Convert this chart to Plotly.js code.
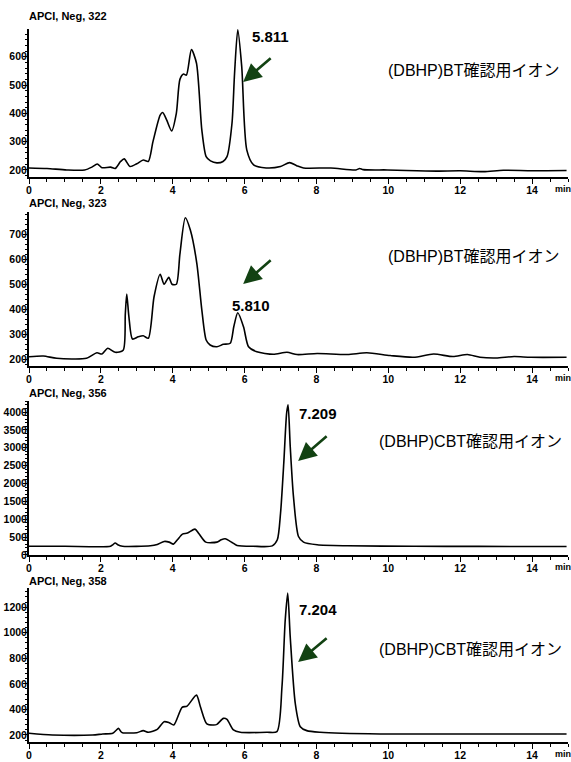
<!DOCTYPE html>
<html>
<head>
<meta charset="utf-8">
<script src="https://cdn.plot.ly/plotly-3.0.1.min.js"></script>
<style>html,body{margin:0;padding:0;background:#fff;}#chart{width:571px;height:762px;}</style>
</head>
<body>
<div id="chart"></div>
<script>
// ---- data ----
const panelTitles = ["APCI, Neg, 322", "APCI, Neg, 323", "APCI, Neg, 356", "APCI, Neg, 358"];
const peakLabels = ["5.811", "5.810", "7.209", "7.204"];
const ionLabels = ["(DBHP)BT確認用イオン", "(DBHP)BT確認用イオン", "(DBHP)CBT確認用イオン", "(DBHP)CBT確認用イオン"];
const xTickVals = [0, 2, 4, 6, 8, 10, 12, 14];

const t1 = [0, 0.5, 1.05, 1.55, 1.75, 1.9, 2.03, 2.27, 2.4, 2.55, 2.65, 2.81, 3.0, 3.18, 3.32, 3.45, 3.65, 3.72, 3.83, 3.97, 4.1, 4.2, 4.3, 4.38, 4.52, 4.66, 4.81, 4.93, 5.05, 5.23, 5.4, 5.51, 5.65, 5.72, 5.81, 5.92, 6.06, 6.25, 6.6, 7.0, 7.25, 7.45, 7.64, 8.4, 9.1, 9.2, 9.3, 9.97, 10.5, 11.35, 12.0, 12.65, 13.2, 14.0, 14.96];
const v1 = [207, 205, 200, 200, 210, 221, 208, 210, 205, 230, 239, 212, 222, 235, 230, 300, 394, 403, 377, 338, 400, 520, 539, 535, 625, 578, 341, 247, 232, 225, 230, 247, 366, 540, 695, 565, 271, 218, 207, 212, 226, 215, 207, 207, 200, 205, 201, 200, 198, 196, 197, 194, 199, 197, 198];

const t2 = [0, 0.4, 0.77, 1.6, 1.89, 2.03, 2.19, 2.4, 2.62, 2.68, 2.72, 2.78, 2.88, 3.04, 3.18, 3.32, 3.48, 3.65, 3.76, 3.89, 3.98, 4.1, 4.2, 4.35, 4.49, 4.67, 4.81, 4.93, 5.04, 5.23, 5.41, 5.6, 5.7, 5.81, 5.97, 6.11, 6.34, 6.8, 7.18, 7.46, 8.02, 8.86, 9.4, 10.05, 10.7, 11.26, 11.8, 12.2, 12.55, 13.0, 13.5, 13.96, 14.96];
const v2 = [209, 212, 203, 203, 225, 220, 243, 227, 235, 380, 460, 370, 280, 289, 293, 283, 449, 539, 499, 527, 499, 499, 620, 765, 716, 583, 396, 276, 256, 249, 259, 263, 330, 385, 329, 249, 229, 219, 227, 218, 222, 218, 225, 214, 207, 220, 210, 218, 207, 204, 210, 207, 207];

const t3 = [0, 1.0, 2.27, 2.33, 2.4, 2.47, 2.6, 3.38, 3.57, 3.76, 3.9, 4.02, 4.13, 4.27, 4.41, 4.62, 4.73, 4.92, 5.23, 5.35, 5.46, 5.65, 5.79, 6.25, 6.77, 6.91, 7.0, 7.09, 7.17, 7.21, 7.27, 7.36, 7.5, 7.64, 8.02, 8.86, 10.7, 12.5, 14.96];
const v3 = [245, 243, 243, 285, 335, 285, 243, 257, 294, 378, 360, 304, 425, 585, 612, 724, 593, 360, 360, 425, 453, 350, 266, 243, 255, 425, 1168, 2568, 3969, 4200, 3034, 1633, 518, 360, 285, 257, 243, 240, 238];

const t4 = [0, 0.65, 1.77, 2.05, 2.33, 2.42, 2.49, 2.56, 2.6, 3.0, 3.18, 3.32, 3.57, 3.76, 3.9, 4.03, 4.26, 4.4, 4.66, 4.77, 4.95, 5.14, 5.23, 5.41, 5.51, 5.69, 5.88, 6.62, 6.9, 7.04, 7.13, 7.2, 7.27, 7.41, 7.55, 7.73, 8.1, 9.77, 11.63, 14.96];
const v4 = [213, 200, 200, 208, 213, 235, 252, 225, 218, 218, 234, 221, 244, 304, 296, 278, 416, 426, 512, 421, 286, 278, 283, 330, 322, 239, 221, 221, 226, 577, 1096, 1310, 966, 447, 265, 234, 221, 208, 208, 208];

const times = [t1, t2, t3, t4];
const values = [v1, v2, v3, v4];

// ---- layout helpers ----
const yRanges = [[175, 698], [172, 788], [0, 4310], [145, 1350]];
const yDticks = [100, 100, 500, 200];
const yTick0 = [200, 200, 0, 200];
const domains = [[0.7924, 1.0], [0.5273, 0.7433], [0.2623, 0.4783], [0, 0.216]];
const titleShift = [13, 9, 8, 7];
const peakPos = [[6.71, 670], [6.18, 416], [8.05, 3950], [8.05, 1184]];
const ionPos = [[9.94, 553], [9.94, 612], [9.69, 3165], [9.69, 872]];
const arrowPos = [[5.96, 511, 29, -25], [5.96, 500, 29, -25], [7.49, 2633, 30, -26], [7.49, 770, 30, -25]];

const tickFont = {family: "Arial, 'Liberation Sans', sans-serif", size: 10.5, color: "#000", weight: "bold"};
const traces = [];
const layout = {
  width: 571, height: 762,
  margin: {l: 29, r: 3, t: 29, b: 20},
  paper_bgcolor: "#fff", plot_bgcolor: "#fff",
  showlegend: false,
  annotations: []
};

for (let i = 0; i < 4; i++) {
  const s = i === 0 ? "" : String(i + 1);
  traces.push({
    x: times[i], y: values[i], type: "scatter", mode: "lines",
    xaxis: "x" + s, yaxis: "y" + s,
    line: {color: "#000", width: 1.6, shape: "spline", smoothing: 0.7},
    hoverinfo: "skip"
  });
  layout["xaxis" + s] = {
    anchor: "y" + s, domain: [0, 1], range: [0, 15],
    showline: true, linecolor: "#000", linewidth: 2,
    showgrid: false, zeroline: false,
    tickmode: "array", tickvals: xTickVals,
    ticks: "outside", ticklen: 5, tickwidth: 1, tickcolor: "#000",
    minor: {dtick: 0.5, tick0: 0, ticks: "outside", ticklen: 3, tickwidth: 1, tickcolor: "#000"},
    tickfont: tickFont, ticklabelstandoff: -3, fixedrange: true
  };
  layout["yaxis" + s] = {
    anchor: "x" + s, domain: domains[i], range: yRanges[i],
    showline: true, linecolor: "#000", linewidth: 2,
    showgrid: false, zeroline: false,
    tickmode: "linear", tick0: yTick0[i], dtick: yDticks[i],
    ticks: "outside", ticklen: 4, tickwidth: 1, tickcolor: "#000",
    minor: {dtick: yDticks[i] / 5, ticks: "outside", ticklen: 2, tickwidth: 1, tickcolor: "#000"},
    tickfont: tickFont, ticklabelstandoff: -6, fixedrange: true
  };
  layout.annotations.push({
    text: panelTitles[i], xref: "x" + s + " domain", yref: "y" + s + " domain",
    x: 0, y: 1, xanchor: "left", yanchor: "middle", yshift: titleShift[i], xshift: -2,
    showarrow: false,
    font: {family: "Arial, 'Liberation Sans', sans-serif", size: 11, color: "#000", weight: "bold"}
  });
  layout.annotations.push({
    text: peakLabels[i], xref: "x" + s, yref: "y" + s,
    x: peakPos[i][0], y: peakPos[i][1], xanchor: "center", yanchor: "middle",
    showarrow: false,
    font: {family: "Arial, 'Liberation Sans', sans-serif", size: 15, color: "#000", weight: "bold"}
  });
  layout.annotations.push({
    text: ionLabels[i], xref: "x" + s, yref: "y" + s,
    x: ionPos[i][0], y: ionPos[i][1], xanchor: "left", yanchor: "middle",
    showarrow: false,
    font: {family: "Arial, 'Liberation Sans', 'Noto Sans CJK JP', sans-serif", size: 16, color: "#000"}
  });
  layout.annotations.push({
    text: "", xref: "x" + s, yref: "y" + s,
    x: arrowPos[i][0], y: arrowPos[i][1], ax: arrowPos[i][2], ay: arrowPos[i][3],
    showarrow: true, arrowhead: 2, arrowsize: 1.4, arrowwidth: 2.6, arrowcolor: "#124212", standoff: 0
  });
  layout.annotations.push({
    text: "min", xref: "paper", yref: "y" + s + " domain",
    x: 1, y: 0, xanchor: "center", yanchor: "top", yshift: -5, xshift: -5,
    showarrow: false,
    font: {family: "Arial, 'Liberation Sans', sans-serif", size: 9, color: "#000", weight: "bold"}
  });
}

Plotly.newPlot("chart", traces, layout, {displayModeBar: false, staticPlot: true});
</script>
</body>
</html>
